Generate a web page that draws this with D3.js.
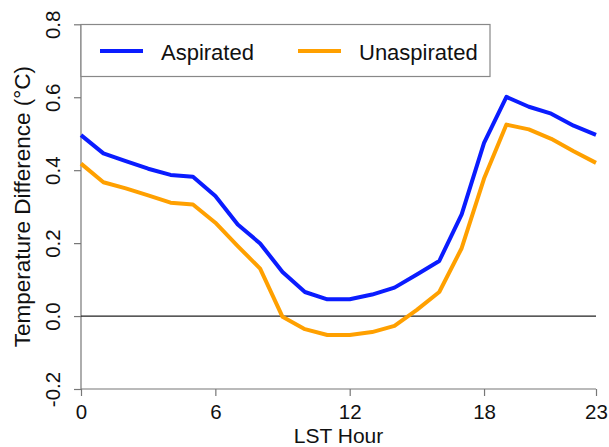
<!DOCTYPE html>
<html>
<head>
<meta charset="utf-8">
<script src="https://cdn.jsdelivr.net/npm/d3@7"></script>
<style>
  body { margin: 0; background: #fff; }
  text { font-family: "Liberation Sans", Arial, sans-serif; fill: #111; }
</style>
</head>
<body>
<div id="chart"></div>
<script>
// Hourly mean temperature difference (°C)
const hours = [0, 1, 2, 3, 4, 5, 6, 7, 8, 9, 10, 11, 12, 13, 14, 15, 16, 17, 18, 19, 20, 21, 22, 23];
const aspirated = [0.496, 0.446, 0.425, 0.404, 0.387, 0.382, 0.329, 0.251, 0.199, 0.121, 0.066, 0.046,
                   0.046, 0.059, 0.078, 0.114, 0.151, 0.279, 0.475, 0.601, 0.574, 0.555, 0.522, 0.497];
const unaspirated = [0.418, 0.367, 0.350, 0.331, 0.311, 0.306, 0.256, 0.192, 0.130, -0.002, -0.036, -0.052,
                     -0.052, -0.044, -0.027, 0.017, 0.066, 0.186, 0.377, 0.525, 0.512, 0.486, 0.452, 0.420];
const xTicks = [0, 6, 12, 18, 23];
const yTicks = [-0.2, 0.0, 0.2, 0.4, 0.6, 0.8];
const seriesNames = ['Aspirated', 'Unaspirated'];
const seriesColors = ['#0a1cff', '#ffa000'];

const width = 609, height = 447;
const svg = d3.select('#chart').append('svg')
    .attr('width', width)
    .attr('height', height);

const x = d3.scaleLinear().domain([0, 23]).range([81, 596]);
const y = d3.scaleLinear().domain([-0.2, 0.8]).range([389, 24.3]);

// Axes (R style: outward ticks, no box)
const xAxis = svg.append('g')
    .attr('transform', `translate(0,${y(-0.2)})`)
    .call(d3.axisBottom(x).tickValues(xTicks).tickSize(7).tickPadding(8).tickFormat(d => String(d)));
const yAxis = svg.append('g')
    .attr('transform', `translate(${x(0)},0)`)
    .call(d3.axisLeft(y).tickValues(yTicks).tickSize(7).tickPadding(0).tickFormat(d => d.toFixed(1)));

[xAxis, yAxis].forEach(g => {
    g.select('.domain').attr('stroke', '#777').attr('stroke-width', 1.2);
    g.selectAll('.tick line').attr('stroke', '#777').attr('stroke-width', 1.2);
    g.selectAll('.tick text').style('font-size', '20.5px').attr('fill', '#111');
});
// remove the domain end caps
xAxis.select('.domain').attr('d', `M${x(0)},0H${x(23)}`);
yAxis.select('.domain').attr('d', `M0,${y(-0.2)}V${y(0.8)}`);

// rotated y tick labels
yAxis.selectAll('.tick text')
    .attr('x', 0).attr('dy', null)
    .attr('text-anchor', 'middle')
    .attr('transform', 'translate(-21,0) rotate(-90)');

// zero reference line
svg.append('line')
    .attr('x1', x(0)).attr('x2', x(23))
    .attr('y1', y(0)).attr('y2', y(0))
    .attr('stroke', '#222').attr('stroke-width', 1.2);

// series lines
const line = d3.line().x((d, i) => x(hours[i])).y(d => y(d));
[aspirated, unaspirated].forEach((vals, i) => {
    svg.append('path')
        .datum(vals)
        .attr('d', line)
        .attr('fill', 'none')
        .attr('stroke', seriesColors[i])
        .attr('stroke-width', 4)
        .attr('stroke-linejoin', 'round');
});

// axis titles
svg.append('text')
    .attr('x', x(11.5)).attr('y', 442.5)
    .attr('text-anchor', 'middle')
    .style('font-size', '21px')
    .text('LST Hour');
svg.append('text')
    .attr('transform', `translate(29.5,${(y(-0.2) + y(0.8)) / 2}) rotate(-90)`)
    .attr('text-anchor', 'middle')
    .style('font-size', '22.5px')
    .text('Temperature Difference (°C)');

// legend
const legend = svg.append('g');
legend.append('rect')
    .attr('x', 81).attr('y', 24.5)
    .attr('width', 409).attr('height', 52)
    .attr('fill', '#fff')
    .attr('stroke', '#888').attr('stroke-width', 1.2);
const legendX = [100, 298];
seriesNames.forEach((name, i) => {
    legend.append('line')
        .attr('x1', legendX[i]).attr('x2', legendX[i] + 43)
        .attr('y1', 51).attr('y2', 51)
        .attr('stroke', seriesColors[i]).attr('stroke-width', 4);
    legend.append('text')
        .attr('x', legendX[i] + 61).attr('y', 59.5)
        .style('font-size', '22px')
        .text(name);
});
</script>
</body>
</html>
